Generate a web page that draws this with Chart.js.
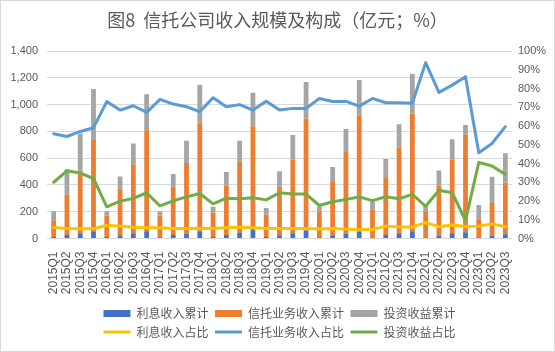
<!DOCTYPE html>
<html><head><meta charset="utf-8">
<script src="https://cdn.jsdelivr.net/npm/chart.js@4.4.0/dist/chart.umd.min.js"></script>
<style>html,body{margin:0;padding:0;background:#fff}canvas{display:block}</style>
</head><body>
<canvas id="c" width="555" height="352"></canvas>
<script>
const quarters = ['2015Q1','2015Q2','2015Q3','2015Q4','2016Q1','2016Q2','2016Q3','2016Q4',
  '2017Q1','2017Q2','2017Q3','2017Q4','2018Q1','2018Q2','2018Q3','2018Q4',
  '2019Q1','2019Q2','2019Q3','2019Q4','2020Q1','2020Q2','2020Q3','2020Q4',
  '2021Q1','2021Q2','2021Q3','2021Q4','2022Q1','2022Q2','2022Q3','2022Q4',
  '2023Q1','2023Q2','2023Q3'];
// 亿元
const interestIncome = [12,27,40,55, 12,25,40,55, 10,27,35,55, 12,27,42,67, 12,25,40,60, 10,25,35,50, 10,27,40,55, 10,22,40,47, 10,20,32];
const trustIncome    = [125,299,465,687, 157,343,515,754, 159,351,528,809, 182,366,531,772, 165,361,550,834, 189,396,617,869, 209,431,637,876, 194,371,548,727, 129,246,386];
const investIncome   = [67,192,279,374, 35,95,155,269, 35,103,167,284, 43,103,157,249, 50,117,182,274, 38,112,165,264, 55,135,177,297, 40,115,154,73, 111,195,219];
// %
const interestShare = [5.9,5.3,5.2,5.2, 7.1,6.6,6.0,5.7, 5.7,5.3,5.3,5.5, 5.3,5.7,6.0,5.8, 5.3,5.3,5.3,5.3, 5.1,5.3,5.0,4.8, 4.8,6.6,6.2,6.2, 8.5,6.3,7.2,6.4, 6.6,7.8,6.3];
const trustShare    = [55.9,54.4,57.1,59.1, 73.0,68.5,70.8,67.3, 74.2,71.7,70.3,67.6, 75.1,70.3,71.4,68.5, 73.2,68.5,69.4,69.4, 74.7,73.1,73.1,70.6, 74.7,72.4,72.4,72.1, 93.8,77.9,81.8,86.3, 45.7,50.7,59.7];
const investShare   = [30.0,36.1,34.9,32.0, 16.9,19.9,21.4,24.4, 17.4,20.1,22.2,24.0, 18.5,21.5,21.2,21.7, 20.6,24.4,23.7,23.7, 17.6,19.6,20.8,22.2, 20.2,22.3,21.2,23.5, 17.2,25.7,24.4,9.6, 40.6,38.7,34.2];
const leftMax = 1400, leftStep = 200, rightMax = 100, rightStep = 10;

const CJK = '"Noto Sans CJK SC", sans-serif';
const NUM = '"Liberation Sans", Arial, sans-serif';
const TXT = '#595959';

const frame = {
  id: 'frame',
  beforeDraw(chart) {
    const c = chart.ctx; c.save(); c.fillStyle = '#fff'; c.fillRect(0,0,chart.width,chart.height); c.restore();
  },
  afterDraw(chart) {
    const c = chart.ctx; c.save(); c.strokeStyle = '#D9D9D9'; c.lineWidth = 1;
    c.strokeRect(0.5,0.5,chart.width-1,chart.height-1); c.restore();
  }
};

const bar = (label, data, color) => ({type:'bar', label, data, backgroundColor: color, borderWidth: 0,
  yAxisID: 'y', stack: 's', order: 2, barPercentage: 0.36, categoryPercentage: 1});
const line = (label, data, color) => ({type:'line', label, data, borderColor: color, backgroundColor: color,
  borderWidth: 3, pointRadius: 0, tension: 0, yAxisID: 'y1', order: 1, borderJoinStyle: 'round', borderCapStyle: 'round'});

new Chart(document.getElementById('c'), {
  data: {
    labels: quarters,
    datasets: [
      bar('利息收入累计', interestIncome, '#4472C4'),
      bar('信托业务收入累计', trustIncome, '#ED7D31'),
      bar('投资收益累计', investIncome, '#A5A5A5'),
      line('利息收入占比', interestShare, '#FFC000'),
      line('信托业务收入占比', trustShare, '#5B9BD5'),
      line('投资收益占比', investShare, '#70AD47')
    ]
  },
  options: {
    responsive: false, animation: false, devicePixelRatio: 1,
    layout: {padding: {top: 4, left: 4, right: 4, bottom: 4}},
    plugins: {
      tooltip: {enabled: false},
      title: {display: true, text: '图8  信托公司收入规模及构成（亿元；%）', color: TXT,
        font: {family: CJK, size: 18, weight: 'normal'}, padding: {top: 5, bottom: 20.4}},
      legend: {
        position: 'bottom', fullSize: false,
        labels: {
          color: TXT, font: {family: CJK, size: 12}, padding: 6.5,
          usePointStyle: true, pointStyleWidth: 27, boxHeight: 7,
          sort: (a, b) => a.datasetIndex - b.datasetIndex,
          generateLabels(chart) {
            const items = Chart.defaults.plugins.legend.labels.generateLabels(chart);
            items.forEach(it => {
              const ds = chart.data.datasets[it.datasetIndex];
              if (ds.type === 'line') { it.pointStyle = 'line'; it.lineWidth = 3; it.strokeStyle = ds.borderColor; }
              else { it.pointStyle = 'rect'; it.lineWidth = 0; it.fillStyle = ds.backgroundColor; }
            });
            return items;
          }
        }
      }
    },
    scales: {
      x: {
        stacked: true,
        grid: {display: false},
        border: {display: false},
        ticks: {autoSkip: false, maxRotation: 90, minRotation: 90, padding: 5, color: TXT, font: {family: NUM, size: 12}},
        afterFit(s) { s.height = 62.5; }
      },
      y: {
        stacked: true, position: 'left', min: 0, max: leftMax,
        grid: {color: '#D9D9D9', drawTicks: false, lineWidth: 1},
        border: {display: false},
        ticks: {stepSize: leftStep, padding: 9, color: TXT, font: {family: NUM, size: 11}},
        afterFit(s) { s.width = 43; }
      },
      y1: {
        position: 'right', min: 0, max: rightMax,
        grid: {display: false, drawTicks: false},
        border: {display: false},
        ticks: {stepSize: rightStep, padding: 6, color: TXT, font: {family: NUM, size: 11}, callback: v => v + '%'},
        afterFit(s) { s.width = 39; }
      }
    }
  },
  plugins: [frame]
});
</script>
</body></html>
